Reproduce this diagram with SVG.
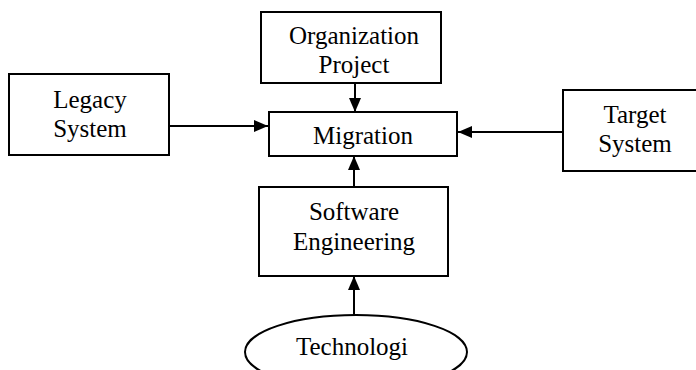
<svg xmlns="http://www.w3.org/2000/svg" width="696" height="370" viewBox="0 0 696 370">
<defs>
<marker id="ah" viewBox="0 0 14 12" refX="14" refY="6" markerWidth="14" markerHeight="12" markerUnits="userSpaceOnUse" orient="auto">
<path d="M0,0 L14,6 L0,12 Z" fill="#000"/>
</marker>
<style>
.box{fill:#fff;stroke:#000;stroke-width:2}
.t{font-family:"Liberation Serif","Times New Roman",serif;font-size:25px;text-anchor:middle;fill:#000}
.c{stroke:#000;stroke-width:2;fill:none;marker-end:url(#ah)}
</style>
</defs>
<rect width="696" height="370" fill="#fff"/>
<g id="connectors">
<line class="c" x1="355" y1="83" x2="355" y2="112"/>
<line class="c" x1="169" y1="126" x2="268" y2="126"/>
<line class="c" x1="563" y1="132" x2="458" y2="132"/>
<line class="c" x1="354" y1="187" x2="354" y2="156"/>
<line class="c" x1="354" y1="315" x2="354" y2="276"/>
</g>
<g id="organization">
<rect class="box" x="261" y="12" width="180" height="71"/>
<text class="t" x="354" y="44">Organization</text>
<text class="t" x="354" y="73">Project</text>
</g>
<g id="migration">
<rect class="box" x="269" y="112" width="188" height="44"/>
<text class="t" x="363" y="144">Migration</text>
</g>
<g id="legacy">
<rect class="box" x="9" y="74" width="160" height="81"/>
<text class="t" x="90" y="108">Legacy</text>
<text class="t" x="90" y="137">System</text>
</g>
<g id="target">
<rect class="box" x="563" y="90" width="144" height="81"/>
<text class="t" x="635" y="123">Target</text>
<text class="t" x="635" y="152">System</text>
</g>
<g id="software">
<rect class="box" x="259" y="187" width="189" height="89"/>
<text class="t" x="354" y="220">Software</text>
<text class="t" x="354" y="250">Engineering</text>
</g>
<g id="technologi">
<ellipse class="box" cx="356" cy="352" rx="111" ry="37"/>
<text class="t" x="352" y="355">Technologi</text>
</g>
</svg>
